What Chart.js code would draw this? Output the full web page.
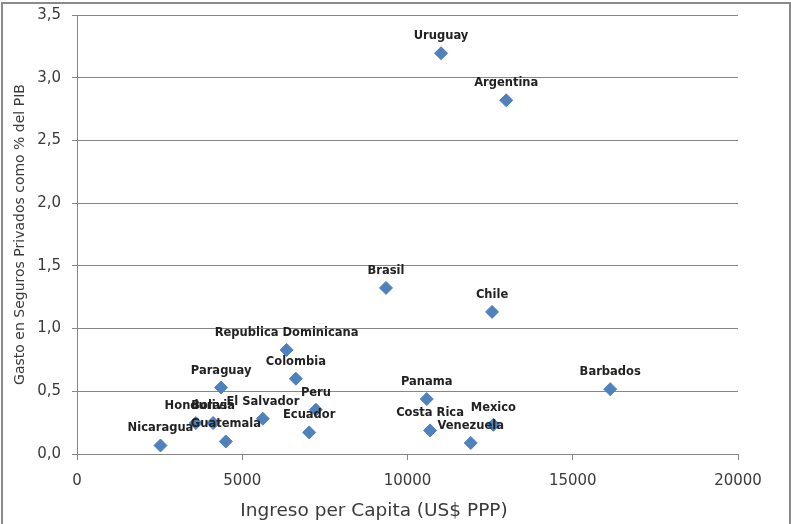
<!DOCTYPE html>
<html>
<head>
<meta charset="utf-8">
<script src="https://cdn.jsdelivr.net/npm/chart.js@4/dist/chart.umd.min.js"></script>
<style>
  body { margin: 0; background: #fff; overflow: hidden; }
  #wrap { position: relative; width: 791px; height: 524px; }
  #frame {
    position: absolute; left: 1px; top: 2px; width: 786px; height: 600px;
    border: 2px solid #8a8a8a; pointer-events: none;
  }
</style>
</head>
<body>
<div id="wrap">
  <canvas id="chart" width="791" height="524"></canvas>
  <div id="frame"></div>
</div>
<script>
const countries = [
  "Uruguay", "Argentina", "Brasil", "Chile", "Barbados",
  "Republica Dominicana", "Colombia", "Paraguay", "Peru", "El Salvador",
  "Honduras", "Bolivia", "Guatemala", "Nicaragua", "Ecuador",
  "Panama", "Costa Rica", "Venezuela", "Mexico"
];
const ingresoPerCapita = [
  11015, 12987, 9349, 12559, 16133,
  6342, 6623, 4361, 7229, 5624,
  3595, 4119, 4503, 2526, 7026,
  10582, 10682, 11914, 12598
];
const gastoSeguros = [
  3.195, 2.82, 1.324, 1.133, 0.517,
  0.83, 0.6, 0.53, 0.353, 0.281,
  0.247, 0.247, 0.1, 0.068, 0.172,
  0.438, 0.188, 0.088, 0.233
];
const xTitle = "Ingreso per Capita (US$ PPP)";
const yTitle = "Gasto en Seguros Privados como % del PIB";

const axisGray = "#868686";
const textGray = "#3a3a3a";

// country names above each diamond
const pointLabels = {
  id: "pointLabels",
  afterDatasetsDraw(chart) {
    const ctx = chart.ctx;
    const meta = chart.getDatasetMeta(0);
    ctx.save();
    ctx.font = "bold 11.5px 'DejaVu Sans'";
    ctx.fillStyle = "#222";
    ctx.textAlign = "center";
    ctx.textBaseline = "alphabetic";
    meta.data.forEach((pt, i) => {
      ctx.fillText(countries[i], pt.x, pt.y - 14);
    });
    ctx.restore();
  },
};

// axis titles
const axisTitles = {
  id: "axisTitles",
  afterDraw(chart) {
    const ctx = chart.ctx;
    const area = chart.chartArea;
    ctx.save();
    ctx.fillStyle = textGray;
    ctx.textAlign = "center";
    ctx.textBaseline = "middle";
    ctx.font = "18.5px 'DejaVu Sans'";
    ctx.fillText(xTitle, 374, 511);
    ctx.translate(20, (area.top + area.bottom) / 2);
    ctx.rotate(-Math.PI / 2);
    ctx.font = "14px 'DejaVu Sans'";
    ctx.fillText(yTitle, 0, 0);
    ctx.restore();
  },
};

const points = ingresoPerCapita.map((x, i) => ({ x: x, y: gastoSeguros[i] }));

new Chart(document.getElementById("chart").getContext("2d"), {
  type: "scatter",
  data: {
    datasets: [
      {
        data: points,
        pointStyle: "rectRot",
        pointRadius: 6.5,
        pointHoverRadius: 6.5,
        backgroundColor: "#4F81BD",
        borderColor: "#4F81BD",
        borderWidth: 1,
      },
    ],
  },
  options: {
    responsive: false,
    animation: false,
    layout: { padding: { left: 0, top: 15, right: 53, bottom: 30 } },
    plugins: {
      legend: { display: false },
      tooltip: { enabled: false },
    },
    scales: {
      x: {
        type: "linear",
        min: 0,
        max: 20000,
        afterFit: (scale) => {
          scale.height = 40;
          scale.paddingLeft = 0;
          scale.paddingRight = 0;
        },
        ticks: {
          stepSize: 5000,
          padding: 12,
          color: textGray,
          font: { family: "DejaVu Sans", size: 15 },
          callback: (v) => String(v),
        },
        grid: {
          drawOnChartArea: false,
          drawTicks: true,
          tickLength: 6,
          color: axisGray,
        },
        border: { display: true, color: axisGray },
      },
      y: {
        type: "linear",
        min: 0,
        max: 3.5,
        afterFit: (scale) => {
          scale.width = 77;
          scale.paddingTop = 0;
          scale.paddingBottom = 0;
        },
        ticks: {
          stepSize: 0.5,
          padding: 11,
          color: textGray,
          font: { family: "DejaVu Sans", size: 15 },
          callback: (v) => v.toFixed(1).replace(".", ","),
        },
        grid: {
          color: axisGray,
          tickLength: 5,
        },
        border: { display: true, color: axisGray },
      },
    },
  },
  plugins: [pointLabels, axisTitles],
});
</script>
</body>
</html>
